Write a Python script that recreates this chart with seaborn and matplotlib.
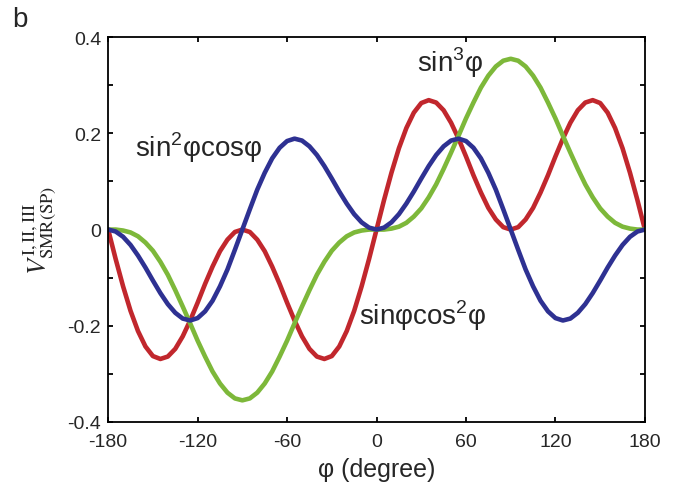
import matplotlib
matplotlib.use("Agg")
import matplotlib.pyplot as plt
import matplotlib.ticker as mticker
import seaborn as sns

# ── Dados (passo de 5°) ───────────────────────────────────────────────────────
phi = list(range(-180, 185, 5))

sin3 = [0, -0.000, -0.002, -0.006, -0.014, -0.027, -0.044, -0.067, -0.094, -0.126,
        -0.160, -0.195, -0.231, -0.264, -0.295, -0.320, -0.339, -0.351, -0.355,
        -0.351, -0.339, -0.320, -0.295, -0.264, -0.231, -0.195, -0.160, -0.126,
        -0.094, -0.067, -0.044, -0.027, -0.014, -0.006, -0.002, -0.000,
        0,
        0.000, 0.002, 0.006, 0.014, 0.027, 0.044, 0.067, 0.094, 0.126, 0.160,
        0.195, 0.231, 0.264, 0.295, 0.320, 0.339, 0.351, 0.355,
        0.351, 0.339, 0.320, 0.295, 0.264, 0.231, 0.195, 0.160, 0.126, 0.094,
        0.067, 0.044, 0.027, 0.014, 0.006, 0.002, 0.000, 0]

sin2cos = [0, -0.004, -0.015, -0.032, -0.054, -0.079, -0.106, -0.132, -0.155, -0.173,
           -0.185, -0.189, -0.184, -0.170, -0.148, -0.118, -0.083, -0.042,
           0, 0.042, 0.083, 0.118, 0.148, 0.170, 0.184, 0.189, 0.185, 0.173,
           0.155, 0.132, 0.106, 0.079, 0.054, 0.032, 0.015, 0.004,
           0,
           0.004, 0.015, 0.032, 0.054, 0.079, 0.106, 0.132, 0.155, 0.173, 0.185,
           0.189, 0.184, 0.170, 0.148, 0.118, 0.083, 0.042, 0,
           -0.042, -0.083, -0.118, -0.148, -0.170, -0.184, -0.189, -0.185, -0.173,
           -0.155, -0.132, -0.106, -0.079, -0.054, -0.032, -0.015, -0.004, 0]

sincos2 = [0, -0.061, -0.118, -0.169, -0.211, -0.243, -0.263, -0.269, -0.264, -0.248,
           -0.222, -0.189, -0.152, -0.113, -0.077, -0.045, -0.021, -0.005,
           0, -0.005, -0.021, -0.045, -0.077, -0.113, -0.152, -0.189, -0.222,
           -0.248, -0.264, -0.269, -0.263, -0.243, -0.211, -0.169, -0.118, -0.061,
           0,
           0.061, 0.118, 0.169, 0.211, 0.243, 0.263, 0.269, 0.264, 0.248, 0.222,
           0.189, 0.152, 0.113, 0.077, 0.045, 0.021, 0.005, 0,
           0.005, 0.021, 0.045, 0.077, 0.113, 0.152, 0.189, 0.222, 0.248, 0.264,
           0.269, 0.263, 0.243, 0.211, 0.169, 0.118, 0.061, 0]

x_ticks = [-180, -120, -60, 0, 60, 120, 180]
y_ticks = [-0.4, -0.2, 0, 0.2, 0.4]

COR_VERDE = "#7DB83A"
COR_AZUL = "#2E3192"
COR_VERMELHO = "#C1272D"

# ── Estilo ────────────────────────────────────────────────────────────────────
sns.set_theme(style="ticks")
plt.rcParams.update({
    "font.family": ["Liberation Sans", "DejaVu Sans"],
    "mathtext.fontset": "custom",
    "mathtext.rm": "Liberation Sans",
    "axes.unicode_minus": False,
    "axes.linewidth": 1.3,
})

fig = plt.figure(figsize=(6.89, 4.89), dpi=100)
ax = fig.add_axes([0.157, 0.135, 0.779, 0.787])

sns.lineplot(x=phi, y=sincos2, color=COR_VERMELHO, lw=3.3, ax=ax)
sns.lineplot(x=phi, y=sin3, color=COR_VERDE, lw=3.3, ax=ax)
sns.lineplot(x=phi, y=sin2cos, color=COR_AZUL, lw=3.3, ax=ax)

ax.set_xlim(-180, 180)
ax.set_ylim(-0.4, 0.4)
ax.set_xticks(x_ticks)
ax.set_yticks(y_ticks)
ax.set_xticklabels([str(v) for v in x_ticks])
ax.set_yticklabels(["%g" % v for v in y_ticks])
ax.yaxis.set_minor_locator(mticker.MultipleLocator(0.1))
ax.tick_params(which="both", direction="in", top=True, right=True,
               labelsize=14, width=1.3, color="black", length=3.5)
ax.tick_params(axis="x", pad=8)
ax.tick_params(axis="y", pad=5)
for s in ax.spines.values():
    s.set_color("black")

ax.set_xlabel("φ (degree)", fontsize=18, labelpad=5)
ax.set_ylabel(r"$V^{\rm I,II,III}_{\rm SMR(SP)}$", fontsize=19,
              math_fontfamily="stix", labelpad=6)

ax.text(27, 0.329, r"sin$^{3}$φ", fontsize=20, va="baseline")
ax.text(-162, 0.153, r"sin$^{2}$φcosφ", fontsize=20, va="baseline")
ax.text(-12, -0.196, r"sinφcos$^{2}$φ", fontsize=20, va="baseline")

fig.text(0.018, 0.985, "b", fontsize=20, va="top")

fig.savefig("out.png", dpi=100)
